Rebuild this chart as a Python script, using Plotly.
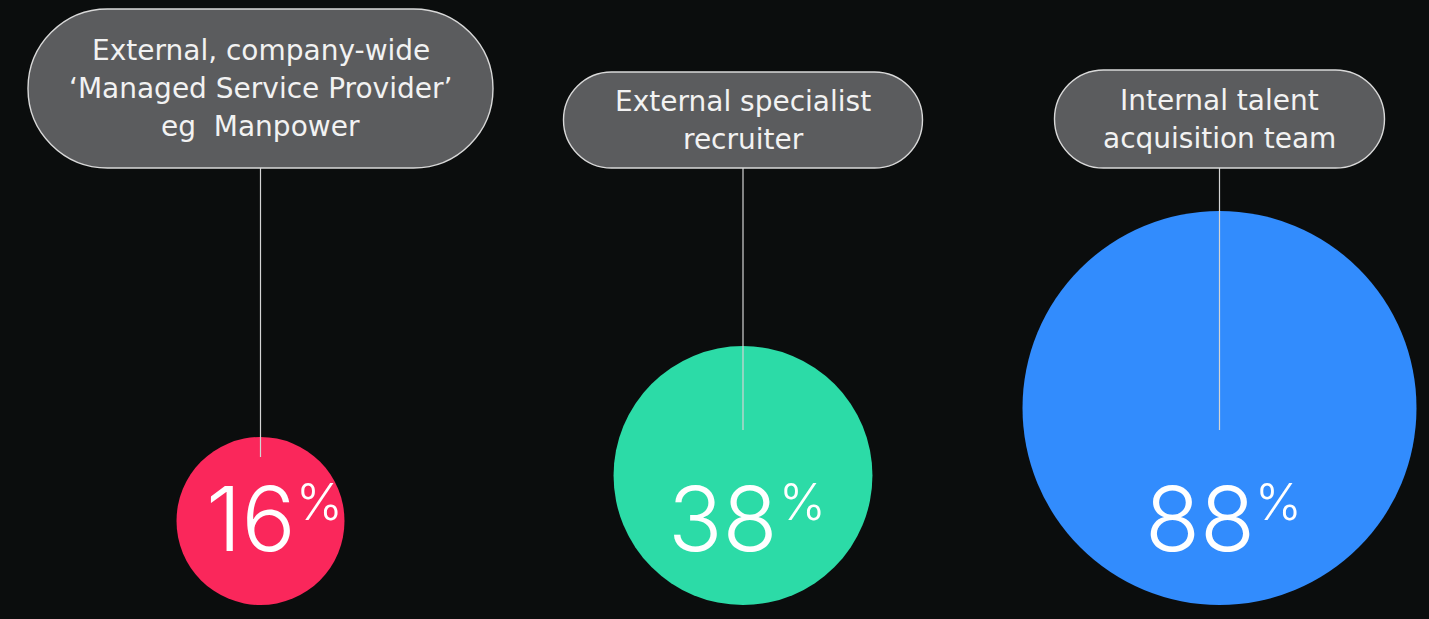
import plotly.graph_objects as go

# Survey share per recruitment channel
labels = [
    ["External, company-wide", "\u2018Managed Service Provider\u2019", "eg  Manpower"],
    ["External specialist", "recruiter"],
    ["Internal talent", "acquisition team"],
]
values = [16, 38, 88]
colors = ["#fa275b", "#2cdba7", "#328cfd"]

# Canvas in pixel units
W, H = 1429, 619
BG = "#0b0d0d"
SLOT_X = [260.5, 743.0, 1219.5]   # horizontal centre of each slot
BASE_Y = 605                      # bubbles share a common bottom line
K = 21.0                          # bubble radius per sqrt(percent)
PILL_BOTTOM = 168
PILL_W = [465, 359, 330]
PILL_H = [159, 96, 98]
LEADER_END = [457, 430, 430]
LINE_GAP = 38
LABEL_FONT = "DejaVu Sans"
LABEL_SIZE = 28
NUM_FONT = "Inter"

fig = go.Figure()

cx = SLOT_X[:len(values)]
radii = [K * v ** 0.5 for v in values]
cy = [BASE_Y - r for r in radii]

# bubbles
fig.add_trace(go.Scatter(
    x=cx, y=cy, mode="markers",
    marker=dict(size=[2 * r for r in radii], color=colors, line=dict(width=0), opacity=1),
    hoverinfo="skip", showlegend=False,
))

kappa = 0.5523


def stadium(x0, x1, y0, y1):
    r = (y1 - y0) / 2
    ym = (y0 + y1) / 2
    c = kappa * r
    return (
        f"M {x0 + r},{y0} L {x1 - r},{y0} "
        f"C {x1 - r + c},{y0} {x1},{ym - c} {x1},{ym} "
        f"C {x1},{ym + c} {x1 - r + c},{y1} {x1 - r},{y1} "
        f"L {x0 + r},{y1} "
        f"C {x0 + r - c},{y1} {x0},{ym + c} {x0},{ym} "
        f"C {x0},{ym - c} {x0 + r - c},{y0} {x0 + r},{y0} Z"
    )


shapes = []
annotations = []
for i, lines in enumerate(labels):
    x = cx[i]
    w, h = PILL_W[i], PILL_H[i]
    y1 = PILL_BOTTOM
    y0 = y1 - h
    shapes.append(dict(
        type="path", xref="x", yref="y",
        path=stadium(x - w / 2, x + w / 2, y0, y1),
        fillcolor="#5b5c5e", line=dict(color="#d9d9d9", width=1.4), layer="above",
    ))
    ym = (y0 + y1) / 2
    n = len(lines)
    for j, t in enumerate(lines):
        annotations.append(dict(
            x=x, y=ym + (j - (n - 1) / 2) * LINE_GAP, xref="x", yref="y",
            text=t, showarrow=False, xanchor="center", yanchor="middle",
            font=dict(family=LABEL_FONT, size=LABEL_SIZE, color="#f2f2f2"),
        ))

# leader lines from each pill down into its bubble
for i in range(len(values)):
    fig.add_trace(go.Scatter(
        x=[cx[i], cx[i]], y=[PILL_BOTTOM, LEADER_END[i]], mode="lines",
        line=dict(color="#d4d4d4", width=1.2), hoverinfo="skip", showlegend=False,
    ))

# value labels: large digits, then a smaller raised percent sign right after
DIGIT_SIZE, PCT_SIZE = 90, 50
SPLIT = 35      # where digits end and the percent sign begins, from slot centre
for i, v in enumerate(values):
    annotations.append(dict(
        x=cx[i] + SPLIT, y=551, xref="x", yref="y", text=str(v), showarrow=False,
        xanchor="right", yanchor="bottom", yshift=-22, borderpad=0, borderwidth=0,
        font=dict(family=NUM_FONT, size=DIGIT_SIZE, color="#ffffff", weight=300),
    ))
    annotations.append(dict(
        x=cx[i] + SPLIT + 0.5, y=488, xref="x", yref="y", text="%", showarrow=False,
        xanchor="left", yanchor="top", yshift=16, borderpad=0, borderwidth=0,
        font=dict(family=NUM_FONT, size=PCT_SIZE, color="#ffffff", weight=300),
    ))

fig.update_layout(
    width=W, height=H, autosize=False,
    margin=dict(l=0, r=0, t=0, b=0, pad=0),
    paper_bgcolor=BG, plot_bgcolor=BG,
    xaxis=dict(range=[0, W], visible=False, fixedrange=True),
    yaxis=dict(range=[H, 0], visible=False, fixedrange=True),
    shapes=shapes, annotations=annotations,
    showlegend=False,
)

fig.write_html("out.html")
